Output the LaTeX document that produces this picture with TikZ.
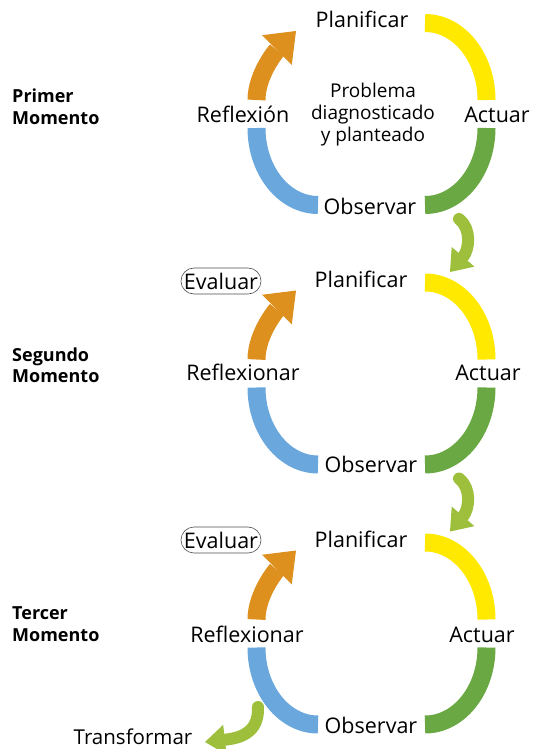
\documentclass[tikz,border=0pt]{standalone}
\usepackage{fontspec}
\setmainfont{Open Sans}
\usetikzlibrary{arrows.meta}
\definecolor{amarillo}{HTML}{FFE900}
\definecolor{verde}{HTML}{6AA843}
\definecolor{azul}{HTML}{6AA7DD}
\definecolor{naranja}{HTML}{DD901D}
\definecolor{verdeclaro}{HTML}{9DBF3B}
\tikzset{
  tramo/.style={line width=18pt},
  etiqueta/.style={font=\fontsize{21.5}{24}\selectfont, anchor=base, inner sep=0pt},
  momento/.style={font=\fontsize{18}{21.5}\selectfont\bfseries, align=left, anchor=west, inner sep=0pt},
  flecha/.style={verdeclaro, line width=12pt, line cap=round, -{Triangle[length=20pt,width=30pt,line width=0pt]}},
  evaluar/.style={font=\fontsize{21.5}{24}\selectfont, draw=black!70, line width=0.6pt, rounded corners=13pt, minimum height=26pt, inner xsep=3pt, inner ysep=0pt}
}

\begin{document}
\begin{tikzpicture}[x=1pt,y=-1pt]
  \useasboundingbox (0,0) rectangle (538,749);
  % los tres ciclos
  \foreach \k/\dy in {1/0,2/259.5,3/519.5} {
    \draw[amarillo,tramo] (425,23+\dy) arc[start angle=-90,end angle=0,x radius=61.5,y radius=77];
    \draw[verde,tramo] (486.5,128+\dy) arc[start angle=0,end angle=90,x radius=61.5,y radius=77];
    \draw[azul,tramo] (318,205+\dy) arc[start angle=90,end angle=180,x radius=61.5,y radius=77];
    \draw[naranja,tramo,-{Triangle[length=27pt,width=42pt,line width=0pt]}]
      (256.5,100+\dy) .. controls (256.5,74+\dy) and (277,50+\dy) .. (296,31+\dy);
  }

  % primer momento
  \node[momento] (m1) at (12,107) {Primer\\Momento};
  \node[etiqueta] (planificar1) at (362,28) {Planificar};
  \node[etiqueta] (actuar1) at (497,122) {Actuar};
  \node[etiqueta] (observar1) at (370,214) {Observar};
  \node[etiqueta] (reflexion1) at (243,122) {Reflexión};
  \node[font=\fontsize{19}{22}\selectfont, align=center] (problema) at (373,115) {Problema\\diagnosticado\\y planteado};

  % segundo momento
  \node[momento] (m2) at (12,365) {Segundo\\Momento};
  \node[etiqueta] (planificar2) at (361,287) {Planificar};
  \node[etiqueta] (actuar2) at (488,380) {Actuar};
  \node[etiqueta] (observar2) at (371,472) {Observar};
  \node[etiqueta] (reflexion2) at (243,380) {Reflexionar};
  \node[evaluar] (evaluar2) at (221,281) {Evaluar};

  % tercer momento
  \node[momento] (m3) at (12,624) {Tercer\\Momento};
  \node[etiqueta] (planificar3) at (361,547) {Planificar};
  \node[etiqueta] (actuar3) at (482,642) {Actuar};
  \node[etiqueta] (observar3) at (371,733) {Observar};
  \node[etiqueta] (reflexion3) at (247,642) {Reflexionar};
  \node[evaluar] (evaluar3) at (221,540) {Evaluar};
  \node[etiqueta, font=\fontsize{20.5}{24}\selectfont] (transformar) at (133,744) {Transformar};

  % flechas entre momentos
  \coordinate (sale1) at (459,219);
  \coordinate (entra2) at (450,272);
  \coordinate (sale2) at (459,478.5);
  \coordinate (entra3) at (450,531.5);
  \coordinate (sale3) at (258,707);
  \coordinate (entraT) at (205,742);
  \draw[flecha] (sale1) .. controls (472,229) and (469,250) .. (entra2);
  \draw[flecha] (sale2) .. controls (472,488.5) and (469,509.5) .. (entra3);
  \draw[flecha] (sale3) .. controls (259,733) and (240,738) .. (entraT);
\end{tikzpicture}
\end{document}
